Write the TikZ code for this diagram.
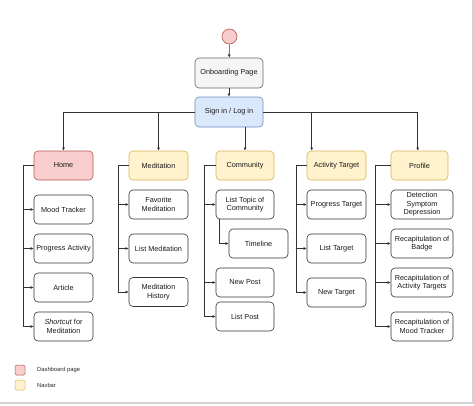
\documentclass[tikz,border=0pt]{standalone}
\usepackage{fontspec}
\setmainfont{Liberation Sans}
\usetikzlibrary{arrows.meta,calc}
\definecolor{redfill}{HTML}{F8CECC}
\definecolor{redline}{HTML}{B85450}
\definecolor{yelfill}{HTML}{FFF2CC}
\definecolor{yelline}{HTML}{D6B656}
\definecolor{bluefill}{HTML}{DAE8FC}
\definecolor{blueline}{HTML}{6C8EBF}
\definecolor{grayfill}{HTML}{F5F5F5}
\definecolor{grayline}{HTML}{666666}
\definecolor{conn}{HTML}{333333}
\tikzset{
  box/.style={draw=conn, rounded corners=4pt, minimum width=59pt, minimum height=29pt,
    align=center, inner sep=1pt, font=\fontsize{7.3}{8.6}\selectfont, text=black!90, line width=0.6pt},
  dashbox/.style={box, fill=redfill, draw=redline},
  navbox/.style={box, fill=yelfill, draw=yelline},
  arr/.style={-{Latex[length=3.2pt,width=3pt]}, draw=conn, line width=0.6pt},
  legtext/.style={anchor=west, font=\fontsize{5.8}{6.2}\selectfont, text=black!85, inner sep=0pt},
  legbox/.style={rounded corners=1.5pt, minimum size=10pt, inner sep=0pt, line width=0.5pt},
}
\begin{document}
\begin{tikzpicture}[x=1pt,y=-1pt]
\useasboundingbox (0,0) rectangle (474,405);
% frame
\draw[gray!35, line width=1.6pt] (473.2,0) -- (473.2,403.2) -- (0,403.2);
% top
\node[circle, draw=redline, fill=redfill, minimum size=15pt, inner sep=0pt, line width=0.6pt] (start) at (229.5,36.5) {};
\node[box, fill=grayfill, draw=grayline, minimum width=68pt, minimum height=30pt] (onb) at (229,73) {Onboarding Page};
\node[box, fill=bluefill, draw=blueline, minimum width=68pt, minimum height=30pt] (sign) at (229,112) {Sign in / Log in};
\draw[arr] (start) -- (onb);
\draw[arr] (onb) -- (sign);
% headers
\node[dashbox] (home) at (63.5,165.5) {Home};
\node[navbox] (med) at (158.5,165.5) {Meditation};
\node[navbox, minimum width=58pt] (com) at (245,165.5) {Community};
\node[navbox] (act) at (336.5,165.5) {Activity Target};
\node[navbox, minimum width=57pt] (pro) at (419.5,165.5) {Profile};
\draw[arr] (sign.west) -| (home.north);
\draw[arr] (sign.west) -| (med.north);
\draw[arr] (sign.south -| com.north) -- (com.north);
\draw[arr] (sign.east) -| ($(act.north west)+(5,0)$);
\draw[arr] (sign.east) -| ($(pro.north west)+(27,0)$);
% Home children
\node[box] (h1) at (63.5,209.5) {Mood Tracker};
\node[box] (h2) at (63.5,248.5) {Progress Activity};
\node[box] (h3) at (63.5,287.5) {Article};
\node[box] (h4) at (63.5,326.5) {\textit{Shortcut} for\\Meditation};
\foreach \c in {h1,h2,h3,h4} \draw[arr] (home.west) -- ++(-10,0) |- (\c.west);
% Meditation children
\node[box] (m1) at (158.5,204.5) {Favorite\\Meditation};
\node[box] (m2) at (158.5,248.5) {List Meditation};
\node[box] (m3) at (158.5,292) {Meditation\\History};
\foreach \c in {m1,m2,m3} \draw[arr] (med.west) -- ++(-10,0) |- (\c.west);
% Community children
\node[box, minimum width=58pt] (c1) at (245,204.5) {List Topic of\\Community};
\node[box] (c2) at (258.5,243.5) {Timeline};
\node[box, minimum width=58pt] (c3) at (245,282.5) {New Post};
\node[box, minimum width=58pt] (c4) at (245,316.5) {List Post};
\foreach \c in {c1,c3,c4} \draw[arr] (com.west) -- ++(-11,0) |- (\c.west);
\draw[arr] ($(c1.south west)+(4,0)$) |- (c2.west);
% Activity Target children
\node[box] (a1) at (336.5,204.5) {Progress Target};
\node[box] (a2) at (336.5,248.5) {List Target};
\node[box] (a3) at (336.5,292.5) {New Target};
\foreach \c in {a1,a2,a3} \draw[arr] (act.west) -- ++(-10,0) |- (\c.west);
% Profile children
\node[box, minimum width=62pt] (p1) at (422,204.5) {Detection\\Symptom\\Depression};
\node[box, minimum width=62pt] (p2) at (422,243.5) {Recapitulation of\\Badge};
\node[box, minimum width=62pt] (p3) at (422,282.5) {Recapitulation of\\Activity Targets};
\node[box, minimum width=62pt] (p4) at (422,326.5) {Recapitulation of\\Mood Tracker};
\foreach \c in {p1,p2,p3,p4} \draw[arr] (pro.west) -- ++(-15,0) |- (\c.west);
% legend
\node[legbox, draw=redline, fill=redfill] (lg1) at (20,370) {};
\node[legbox, draw=yelline, fill=yelfill] (lg2) at (20,385) {};
\node[legtext] (lt1) at (37,370) {Dashboard page};
\node[legtext] (lt2) at (37,385) {Navbar};
\end{tikzpicture}
\end{document}
